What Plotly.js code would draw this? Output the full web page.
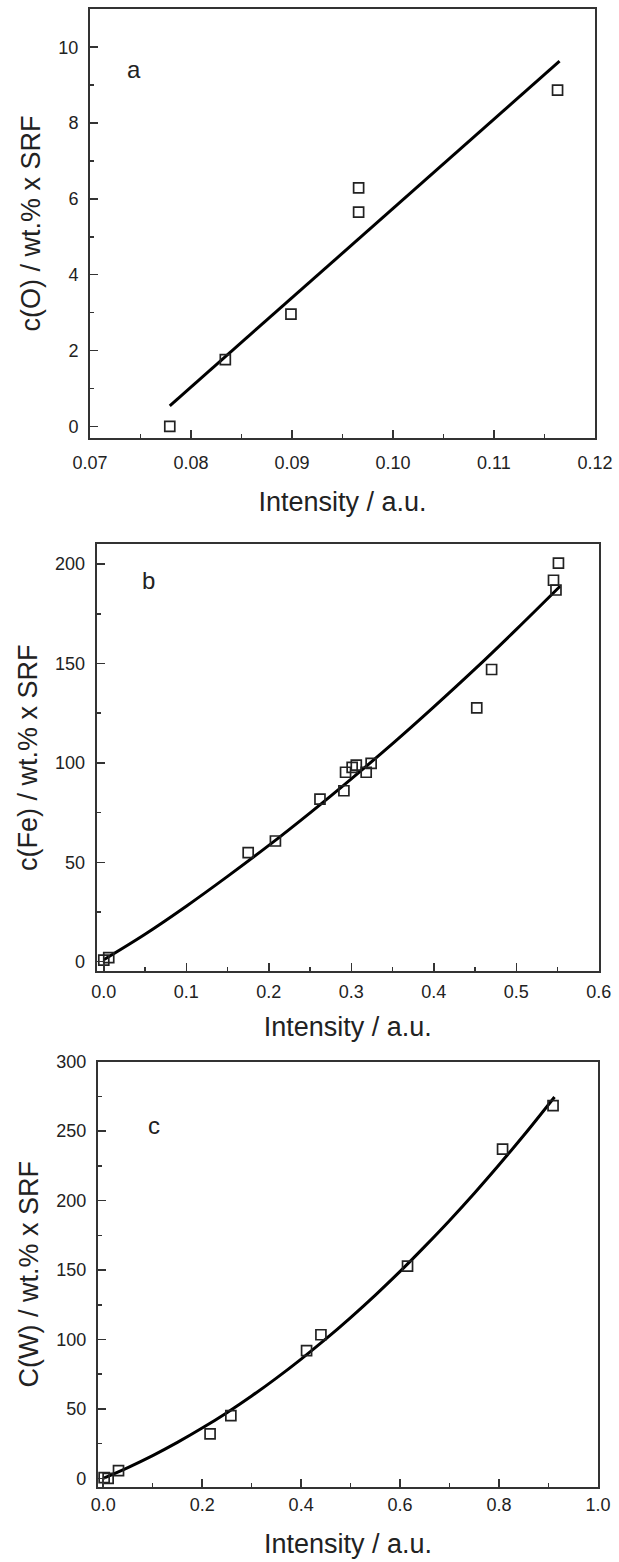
<!DOCTYPE html>
<html>
<head>
<meta charset="utf-8">
<script src="https://cdn.plot.ly/plotly-3.0.1.min.js"></script>
<style>html,body{margin:0;padding:0;background:#fff;}#chart{width:619px;height:1562px;}</style>
</head>
<body>
<div id="chart"></div>
<script>
// Panel a: oxygen
const aIntensity = [0.0779, 0.0834, 0.0899, 0.0966, 0.0966, 0.1163];
const aConc = [0.0, 1.76, 2.96, 6.29, 5.65, 8.87];
const aFitIntensity = [0.0779, 0.1165];
const aFitConc = [0.54, 9.63];

// Panel b: iron
const bIntensity = [0.000, 0.006, 0.175, 0.208, 0.262, 0.291, 0.293, 0.301, 0.306, 0.318, 0.324, 0.452, 0.470, 0.545, 0.548, 0.551];
const bConc = [0.8, 2.0, 54.9, 60.7, 81.8, 86.0, 95.3, 97.8, 98.9, 95.3, 99.8, 127.7, 147.0, 191.9, 187.0, 200.5];
const bFitIntensity = [0.000, 0.05, 0.10, 0.15, 0.20, 0.25, 0.30, 0.35, 0.40, 0.45, 0.50, 0.553];
const bFitConc = [1.0, 13.8, 27.9, 42.9, 58.5, 74.9, 92.0, 109.7, 128.2, 147.3, 167.2, 188.9];

// Panel c: tungsten
const cIntensity = [0.002, 0.010, 0.031, 0.216, 0.258, 0.411, 0.440, 0.615, 0.807, 0.909];
const cConc = [0.5, 0.0, 5.5, 32.0, 45.1, 92.0, 103.4, 152.8, 237.1, 268.3];
const cFitIntensity = [0.0, 0.05, 0.10, 0.15, 0.20, 0.25, 0.30, 0.35, 0.40, 0.45, 0.50, 0.55, 0.60, 0.65, 0.70, 0.75, 0.80, 0.85, 0.912];
const cFitConc = [0, 7.8, 16.4, 25.9, 36.2, 47.3, 59.3, 72.2, 85.9, 100.4, 115.8, 132.0, 149.0, 167.0, 185.7, 205.3, 225.8, 247.0, 274.6];

const panelLabels = ['a', 'b', 'c'];
const xTitle = 'Intensity / a.u.';
const yTitles = ['c(O) / wt.% x SRF', 'c(Fe) / wt.% x SRF', 'C(W) / wt.% x SRF'];

const FONT = 'Liberation Sans, Arial, sans-serif';
const INK = '#222';

function scatter(x, y, xa, ya) {
  return {x: x, y: y, xaxis: xa, yaxis: ya, type: 'scatter', mode: 'markers',
    marker: {symbol: 'square-open', size: 10, color: INK, line: {width: 1.7, color: INK}},
    hoverinfo: 'x+y', showlegend: false};
}
function fit(x, y, xa, ya) {
  return {x: x, y: y, xaxis: xa, yaxis: ya, type: 'scatter', mode: 'lines',
    line: {color: '#000', width: 3, shape: 'spline', smoothing: 1.0},
    hoverinfo: 'skip', showlegend: false};
}

const data = [
  fit(aFitIntensity, aFitConc, 'x', 'y'),
  scatter(aIntensity, aConc, 'x', 'y'),
  fit(bFitIntensity, bFitConc, 'x2', 'y2'),
  scatter(bIntensity, bConc, 'x2', 'y2'),
  fit(cFitIntensity, cFitConc, 'x3', 'y3'),
  scatter(cIntensity, cConc, 'x3', 'y3')
];

function xax(domain, range, dtick, minorDtick, fmt, anchor, labelGap, standoff) {
  return {domain: domain, range: range, dtick: dtick, tick0: 0, tickformat: fmt, anchor: anchor,
    showline: true, linecolor: '#333', linewidth: 2, mirror: true,
    ticks: 'inside', ticklen: 8, tickwidth: 1.5, tickcolor: '#333',
    minor: {ticks: 'inside', ticklen: 4, tickwidth: 1.5, tickcolor: '#333', dtick: minorDtick, showgrid: false},
    showgrid: false, zeroline: false, automargin: false, ticklabelstandoff: labelGap,
    tickfont: {family: FONT, size: 18, color: INK},
    title: {text: xTitle, font: {family: FONT, size: 27, color: INK}, standoff: standoff}};
}
function yax(domain, range, dtick, minorDtick, anchor, title, labelGap, standoff) {
  return {domain: domain, range: range, dtick: dtick, tick0: 0, anchor: anchor,
    showline: true, linecolor: '#333', linewidth: 2, mirror: true,
    ticks: 'inside', ticklen: 8, tickwidth: 1.5, tickcolor: '#333',
    minor: {ticks: 'inside', ticklen: 4, tickwidth: 1.5, tickcolor: '#333', dtick: minorDtick, showgrid: false},
    showgrid: false, zeroline: false, automargin: false, ticklabelstandoff: labelGap,
    tickfont: {family: FONT, size: 18, color: INK},
    title: {text: title, font: {family: FONT, size: 27, color: INK}, standoff: standoff}};
}

const layout = {
  width: 619, height: 1562,
  margin: {l: 0, r: 0, t: 0, b: 0},
  paper_bgcolor: '#fff', plot_bgcolor: '#fff',
  font: {family: FONT, color: INK},
  xaxis: xax([0.1454, 0.9611], [0.07, 0.12], 0.01, 0.005, '.2f', 'y', 8, 20),
  yaxis: yax([0.7198, 0.99405], [-0.3, 11], 2, 1, 'x', yTitles[0], 6, 10),
  xaxis2: xax([0.1562, 0.9675], [-0.0086, 0.6], 0.1, 0.05, '.1f', 'y2', 3, 16),
  yaxis2: yax([0.37836, 0.65154], [-4.7, 210], 50, 25, 'x2', yTitles[1], 6, 10),
  xaxis3: xax([0.1582, 0.9662], [-0.0106, 1.0], 0.2, 0.1, '.1f', 'y3', 1, 20),
  yaxis3: yax([0.04821, 0.3203], [-6, 300], 50, 25, 'x3', yTitles[2], 6, 10),
  annotations: [
    {xref: 'x', yref: 'y', x: 0.0744, y: 9.41, text: panelLabels[0], showarrow: false, font: {family: FONT, size: 24, color: INK}},
    {xref: 'x2', yref: 'y2', x: 0.0536, y: 192, text: panelLabels[1], showarrow: false, font: {family: FONT, size: 24, color: INK}},
    {xref: 'x3', yref: 'y3', x: 0.1027, y: 254.4, text: panelLabels[2], showarrow: false, font: {family: FONT, size: 24, color: INK}}
  ]
};

Plotly.newPlot('chart', data, layout, {displayModeBar: false, staticPlot: true});
</script>
</body>
</html>
